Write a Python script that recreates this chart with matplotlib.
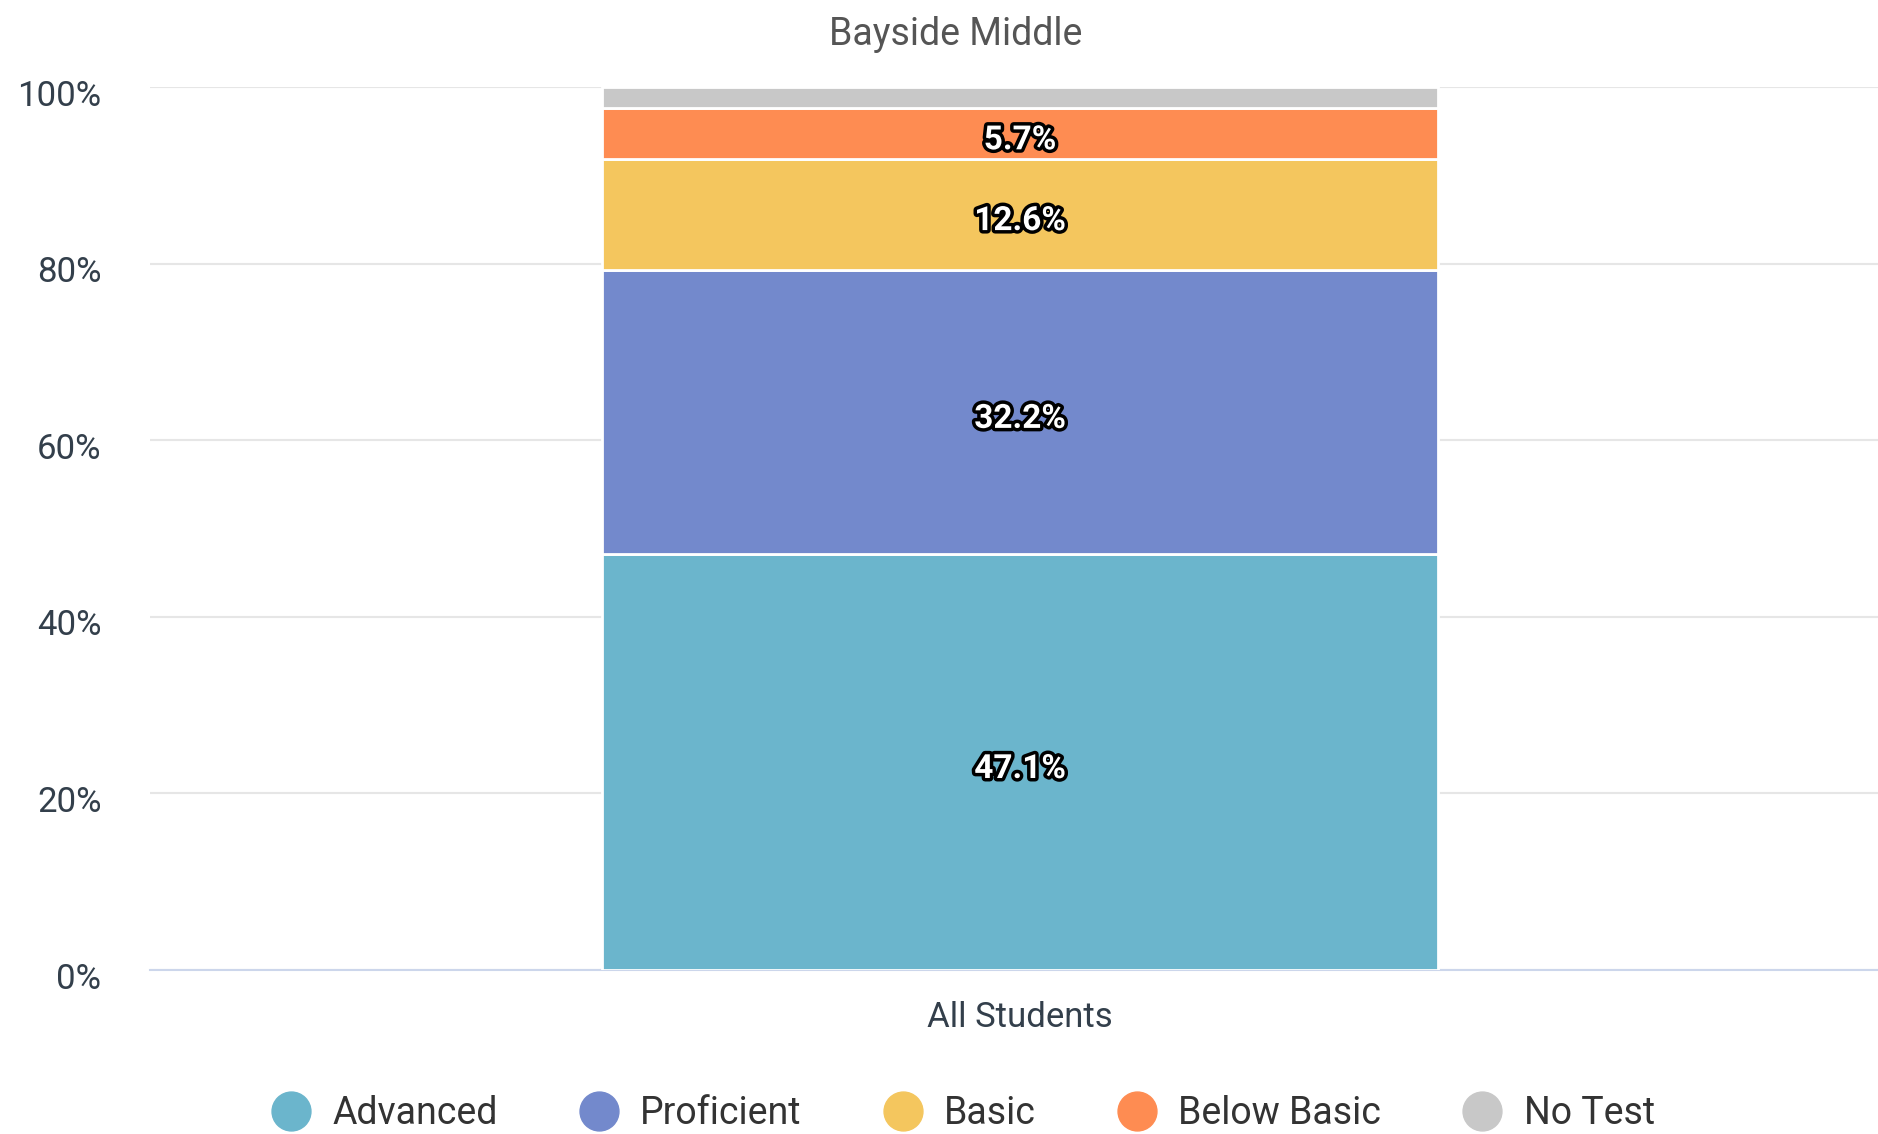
import matplotlib.pyplot as plt
import matplotlib.patheffects as pe
import matplotlib.transforms as mtransforms
from matplotlib.lines import Line2D

plt.rcParams['font.family'] = ['Roboto', 'DejaVu Sans']

# Data
categories = ["All Students"]
levels = ["Advanced", "Proficient", "Basic", "Below Basic", "No Test"]
values = [47.1, 32.2, 12.6, 5.7, 2.4]
colors = ['#6bb5cc', '#7389cc', '#f4c65e', '#fe8c52', '#c8c8c8']
show_label = [True, True, True, True, False]
yticks = [0, 20, 40, 60, 80, 100]

fig = plt.figure(figsize=(18.78, 11.34), dpi=100)
ax = fig.add_axes([0.0799, 0.1446, 0.9201, 0.7787])

bottom = 0
for name, val, col, lab in zip(levels, values, colors, show_label):
    ax.bar(0, val, bottom=bottom, width=0.4838, color=col, edgecolor='white',
           linewidth=2, zorder=3)
    if lab:
        ax.annotate(f"{val}%", (0, bottom + val / 2), xytext=(0, -5),
                    textcoords='offset points', ha='center', va='center',
                    fontsize=24, fontweight='bold', color='white', zorder=4,
                    path_effects=[pe.withStroke(linewidth=5, foreground='black')])
    bottom += val

ax.set_xlim(-0.5035, 0.4965)
ax.set_ylim(0, 100)
ax.set_yticks(yticks)
ax.set_yticklabels([f"{t}%" for t in yticks], fontsize=25, color='#333f4b')
ax.tick_params(axis='y', length=0, pad=35)
shift = mtransforms.ScaledTranslation(0, -4 / 72, fig.dpi_scale_trans)
for t in ax.get_yticklabels():
    t.set_transform(t.get_transform() + shift)
ax.set_xticks([0])
ax.set_xticklabels(categories, fontsize=25, color='#333f4b')
ax.tick_params(axis='x', length=0, pad=22)

ax.yaxis.grid(True, color='#e6e6e6', linewidth=1.5, zorder=0)
ax.set_axisbelow(True)
for s in ['top', 'right', 'left']:
    ax.spines[s].set_visible(False)
ax.spines['bottom'].set_color('#ccd6eb')
ax.spines['bottom'].set_linewidth(1.5)

fig.text(0.509, 0.970, "Bayside Middle", ha='center', va='center',
         fontsize=27, color='#555555')

handles = [Line2D([], [], marker='o', linestyle='', markersize=28,
                  markerfacecolor=c, markeredgecolor=c) for c in colors]
fig.legend(handles, levels, loc='center', bbox_to_anchor=(0.512, 0.018),
           ncol=5, frameon=False, fontsize=27, handlelength=1.2,
           handletextpad=0.5, columnspacing=2.1, labelcolor='#333333')

fig.savefig('out.png', dpi=100)
